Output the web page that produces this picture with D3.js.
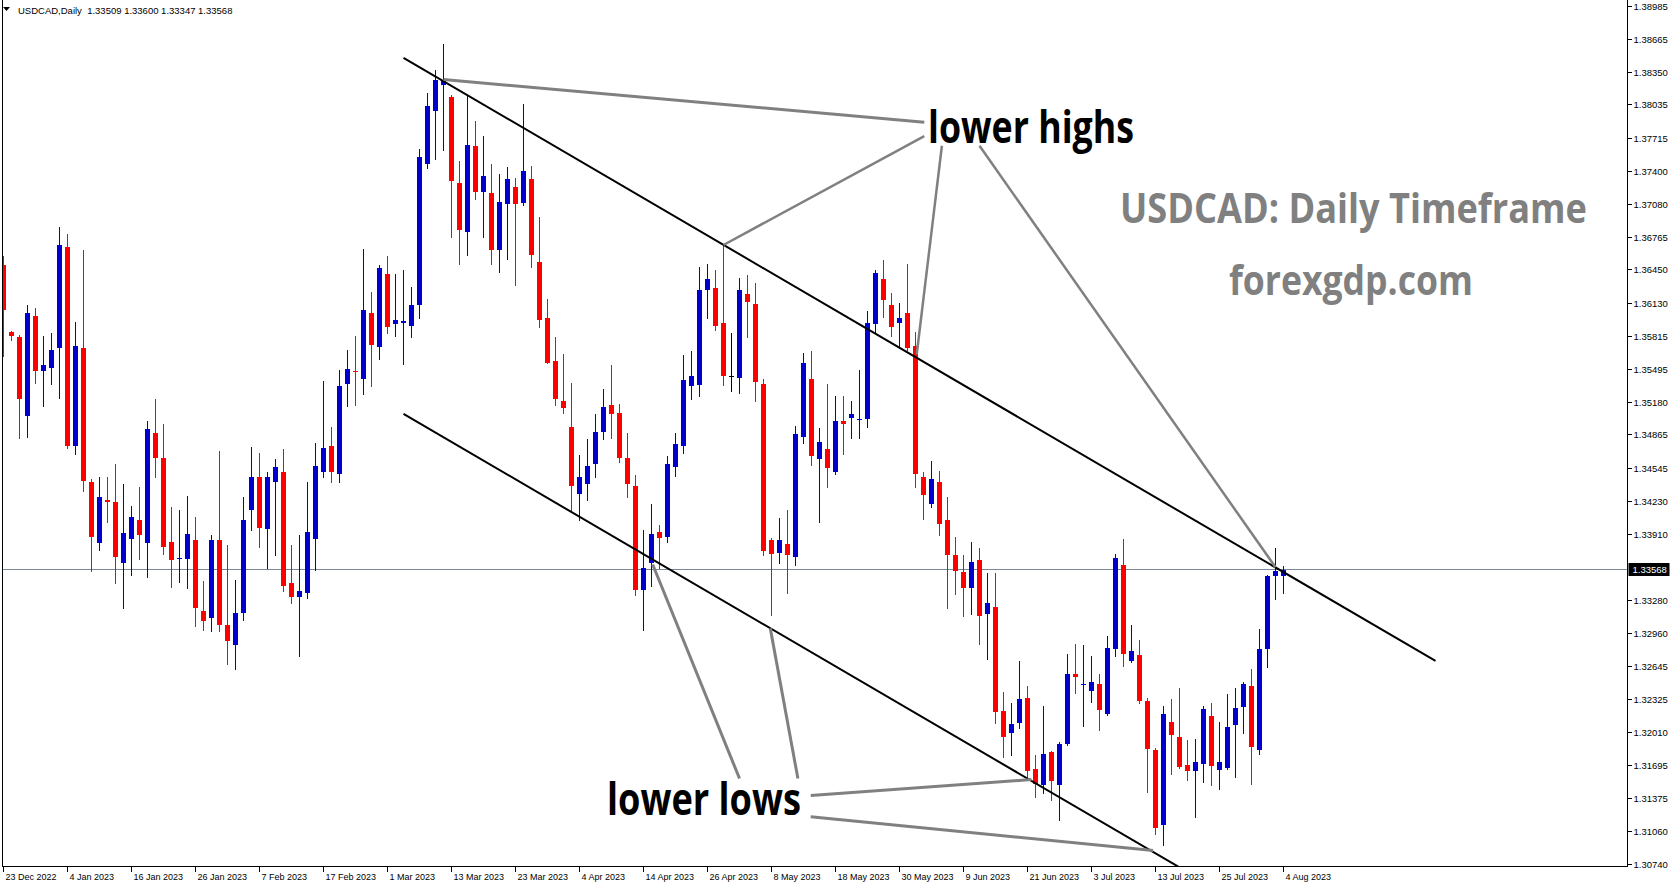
<!DOCTYPE html>
<html><head><meta charset="utf-8">
<script src="https://cdn.jsdelivr.net/npm/d3@7"></script>
<style>html,body{margin:0;padding:0;background:#fff;overflow:hidden}</style>
</head><body><svg id="c" width="1673" height="888"></svg>
<script>
// ---------------- DATA ----------------
const symbolTitle = "USDCAD,Daily";
const headerOHLC = ["1.33509", "1.33600", "1.33347", "1.33568"];
const open = [
1.36497,1.35854,1.35806,1.35047,1.36007,1.35470,1.35508,1.35691,1.36670,1.34759,
1.35691,1.34413,1.33827,1.34240,1.34221,1.33635,1.33866,1.34048,1.33827,1.34884,
1.34644,1.33837,1.33674,1.33674,1.33847,1.33174,1.33107,1.33847,1.33040,1.32848,
1.33155,1.34144,1.34461,1.33962,1.34413,1.34509,1.33443,1.33309,1.33338,1.33866,
1.34500,1.34759,1.34490,1.35354,1.35479,1.35402,1.36036,1.35710,1.36411,1.35924,
1.35934,1.35911,1.36113,1.37458,1.37976,1.38226,1.38111,1.37285,1.36814,1.37631,
1.37198,1.37189,1.36641,1.37083,1.37246,1.37093,1.37314,1.36526,1.35979,1.35566,
1.35191,1.34941,1.34298,1.34394,1.34577,1.34893,1.35153,1.35076,1.34644,1.34375,
1.33376,1.33626,1.33933,1.33885,1.34548,1.34759,1.35326,1.35345,1.36257,1.36276,
1.35931,1.35428,1.35412,1.36219,1.36123,1.35354,1.33856,1.33725,1.33818,1.33687,
1.34839,1.35402,1.34628,1.34721,1.34503,1.34999,1.35021,1.35002,1.35012,1.35924,
1.36363,1.36104,1.35934,1.36027,1.35719,1.34461,1.34196,1.34404,1.34048,1.33712,
1.33549,1.33389,1.33655,1.33139,1.33213,1.32214,1.31996,1.32092,1.32339,1.31657,
1.31497,1.31820,1.31497,1.31894,1.32569,1.32464,1.32400,1.32473,1.32179,1.32803,
1.33616,1.32688,1.32752,1.32310,1.31839,1.31113,1.32099,1.31955,1.31695,1.31631,
1.31699,1.32166,1.31641,1.31660,1.32073,1.32246,1.32454,1.31833,1.32803,1.33504,
1.33509];
const high = [
1.36584,1.35860,1.35825,1.36113,1.36084,1.35815,1.35844,1.36853,1.36795,1.35950,
1.36641,1.34442,1.34452,1.34452,1.34586,1.34394,1.34183,1.34365,1.34999,1.35210,
1.34970,1.34173,1.34135,1.34279,1.34077,1.33462,1.33895,1.34711,1.33799,1.33472,
1.34260,1.34749,1.34692,1.34500,1.34634,1.34721,1.33799,1.33904,1.34404,1.34788,
1.35374,1.34941,1.35489,1.35681,1.35815,1.36651,1.36238,1.36488,1.36584,1.36411,
1.36440,1.36286,1.37611,1.38149,1.38370,1.38620,1.38130,1.37496,1.38120,1.37880,
1.37736,1.37467,1.37371,1.37438,1.37333,1.38043,1.37448,1.36949,1.36171,1.35806,
1.35642,1.35364,1.34672,1.34826,1.35057,1.35306,1.35537,1.35162,1.34884,1.34480,
1.33952,1.34202,1.33991,1.34663,1.34884,1.35633,1.35671,1.36478,1.36507,1.36449,
1.36689,1.35835,1.36372,1.36392,1.36324,1.35402,1.33875,1.34067,1.34144,1.34951,
1.35652,1.35671,1.34932,1.35354,1.35239,1.35239,1.35191,1.35489,1.36055,1.36449,
1.36545,1.36228,1.36132,1.36507,1.35854,1.34509,1.34615,1.34519,1.34269,1.33885,
1.33712,1.33837,1.33779,1.33530,1.33539,1.32396,1.32291,1.32694,1.32454,1.31791,
1.32262,1.31830,1.31907,1.32761,1.32857,1.32848,1.32733,1.32569,1.32934,1.33722,
1.33866,1.33040,1.32896,1.32339,1.31850,1.32262,1.32320,1.32435,1.31935,1.31945,
1.32262,1.32291,1.32099,1.32377,1.32435,1.32492,1.32617,1.33001,1.33520,1.33779,
1.33600];
const low = [
1.35623,1.35771,1.34836,1.34845,1.35364,1.35134,1.35354,1.35220,1.34740,1.34682,
1.34327,1.33558,1.33751,1.34029,1.33443,1.33203,1.33520,1.33674,1.33501,1.34452,
1.33722,1.33405,1.33453,1.33386,1.33021,1.32992,1.32982,1.32982,1.32656,1.32617,
1.33088,1.33952,1.33789,1.33587,1.33712,1.33366,1.33242,1.32733,1.33290,1.33568,
1.34452,1.34404,1.34404,1.35134,1.35153,1.35258,1.35326,1.35594,1.35835,1.35815,
1.35546,1.35806,1.35988,1.37429,1.37515,1.37602,1.36757,1.36507,1.36593,1.37131,
1.36766,1.36507,1.36430,1.36555,1.36296,1.37073,1.36478,1.35902,1.35550,1.35153,
1.35076,1.34125,1.34048,1.34240,1.34461,1.34826,1.34836,1.34605,1.34269,1.33328,
1.32992,1.33414,1.33587,1.33837,1.34471,1.34692,1.35210,1.35239,1.35979,1.35873,
1.35345,1.35287,1.35268,1.35806,1.35182,1.33703,1.33136,1.33635,1.33338,1.33616,
1.34788,1.34576,1.34029,1.34356,1.34490,1.34673,1.34836,1.34836,1.34941,1.35854,
1.35998,1.35815,1.35700,1.35681,1.34356,1.34058,1.34167,1.33898,1.33197,1.33331,
1.33120,1.33139,1.32851,1.32707,1.32092,1.31766,1.31785,1.32044,1.31574,1.31382,
1.31420,1.31353,1.31161,1.31881,1.32380,1.32063,1.32297,1.32025,1.32175,1.32742,
1.32646,1.32678,1.32284,1.31430,1.31026,1.30921,1.31602,1.31660,1.31545,1.31190,
1.31526,1.31497,1.31458,1.31655,1.31574,1.31996,1.31506,1.31795,1.32630,1.33283,
1.33347];
const close = [
1.36059,1.35815,1.35210,1.36027,1.35470,1.35537,1.35681,1.36689,1.34759,1.35719,
1.34423,1.33885,1.34269,1.34221,1.33693,1.33923,1.34077,1.33895,1.34913,1.34644,
1.33789,1.33664,1.33683,1.33914,1.33203,1.33078,1.33856,1.33040,1.32886,1.33146,
1.34048,1.34461,1.33971,1.34452,1.34557,1.33414,1.33309,1.33366,1.33933,1.34567,
1.34740,1.34509,1.35335,1.35498,1.35470,1.36065,1.35729,1.36468,1.35902,1.35963,
1.35953,1.36113,1.37534,1.38024,1.38274,1.38264,1.37304,1.36833,1.37650,1.37198,
1.37352,1.36641,1.37102,1.37323,1.37083,1.37400,1.36593,1.35969,1.35556,1.35210,
1.35124,1.34375,1.34452,1.34567,1.34893,1.35133,1.35066,1.34644,1.34394,1.33376,
1.33578,1.33914,1.33875,1.34586,1.34769,1.35393,1.35422,1.36257,1.36363,1.35911,
1.35422,1.35428,1.36248,1.36142,1.35367,1.33744,1.33715,1.33856,1.33706,1.34874,
1.35556,1.34657,1.34797,1.34541,1.34999,1.34970,1.35057,1.35018,1.35931,1.36420,
1.36155,1.35895,1.35979,1.35694,1.34484,1.34282,1.34442,1.34003,1.33706,1.33552,
1.33389,1.33645,1.33120,1.33242,1.32198,1.31958,1.32089,1.32329,1.31631,1.31513,
1.31801,1.31535,1.31897,1.32569,1.32534,1.32473,1.32492,1.32217,1.32819,1.33683,
1.32755,1.32790,1.32304,1.31843,1.31084,1.32176,1.31977,1.31670,1.31631,1.31715,
1.32224,1.31679,1.31724,1.32051,1.32243,1.32464,1.31862,1.32809,1.33510,1.33558,
1.33568];
const xTickLabels = ["23 Dec 2022","4 Jan 2023","16 Jan 2023","26 Jan 2023","7 Feb 2023","17 Feb 2023","1 Mar 2023","13 Mar 2023","23 Mar 2023","4 Apr 2023","14 Apr 2023","26 Apr 2023","8 May 2023","18 May 2023","30 May 2023","9 Jun 2023","21 Jun 2023","3 Jul 2023","13 Jul 2023","25 Jul 2023","4 Aug 2023"];
const xTickIndex = [0,8,16,24,32,40,48,56,64,72,80,88,96,104,112,120,128,136,144,152,160];
const yTickLabels = ["1.38985","1.38665","1.38350","1.38035","1.37715","1.37400","1.37080","1.36765","1.36450","1.36130","1.35815","1.35495","1.35180","1.34865","1.34545","1.34230","1.33910","1.33280","1.32960","1.32645","1.32325","1.32010","1.31695","1.31375","1.31060","1.30740"];
const currentPrice = 1.33568;
// channel lines: [barIndex, price]
const upperChannel = [[50, 1.38482], [179, 1.32690]];
const lowerChannel = [[50, 1.35063], [179, 1.29271]];
// gray annotation lines: [barIndex, price] pairs
const highsLines = [
  [[55, 1.38274], [115.1, 1.37864]],
  [[115.1, 1.37730], [90.0, 1.36685]],
  [[117.3, 1.37638], [114.15, 1.35633]],
  [[122.0, 1.37638], [159.0, 1.33590]]
];
const lowsLines = [
  [[95.85, 1.33003], [99.3, 1.31561]],
  [[81.15, 1.33616], [92.0, 1.31561]],
  [[100.9, 1.31398], [128.5, 1.31551]],
  [[100.9, 1.31193], [143.7, 1.30869]]
];
const annotationTexts = ["lower highs", "lower lows", "USDCAD: Daily Timeframe", "forexgdp.com"];

// ---------------- LAYOUT ----------------
const W = 1673, H = 888;
const plotL = 2.5, plotR = 1627.5, plotB = 866.5;
const x = d3.scaleLinear().domain([0, 160]).range([3.5, 1283.5]);
const y = d3.scaleLinear().domain([1.30740, 1.38985]).range([864, 5.5]);
const bull = "#0000CD", bear = "#FF0000", doji = "#000000";
const svg = d3.select("#c");
svg.append("rect").attr("width", W).attr("height", H).attr("fill", "#fff");
svg.append("defs").append("clipPath").attr("id", "clip")
  .append("rect").attr("x", plotL).attr("y", 0).attr("width", plotR - plotL).attr("height", plotB);
const g = svg.append("g").attr("clip-path", "url(#clip)");

// current price line
const cpY = Math.floor(y(currentPrice)) + 0.5;
g.append("line").attr("x1", plotL).attr("x2", plotR).attr("y1", cpY).attr("y2", cpY)
  .attr("stroke", "#778899").attr("stroke-width", 1);

// candles
const bars = d3.range(open.length).map(i => ({i, o: open[i], h: high[i], l: low[i], c: close[i]}));
const col = d => d.c > d.o ? bull : (d.c < d.o ? bear : doji);
const cg = g.append("g").attr("shape-rendering", "crispEdges");
cg.selectAll("line.w").data(bars).join("line").attr("class", "w")
  .attr("x1", d => x(d.i)).attr("x2", d => x(d.i))
  .attr("y1", d => Math.round(y(d.h))).attr("y2", d => Math.round(y(d.l)) + 1)
  .attr("stroke", col).attr("stroke-width", 1);
cg.selectAll("rect.b").data(bars).join("rect").attr("class", "b")
  .attr("x", d => x(d.i) - 2.5)
  .attr("y", d => Math.round(y(Math.max(d.o, d.c))))
  .attr("width", 5)
  .attr("height", d => Math.max(1, Math.round(y(Math.min(d.o, d.c))) - Math.round(y(Math.max(d.o, d.c)))))
  .attr("fill", col);

// channel lines
const line = d3.line().x(d => x(d[0])).y(d => y(d[1]));
[upperChannel, lowerChannel].forEach(c => {
  g.append("path").attr("d", line(c)).attr("fill", "none").attr("stroke", "#000").attr("stroke-width", 2);
});
// gray annotation lines
highsLines.forEach((c, k) => {
  g.append("path").attr("d", line(c)).attr("fill", "none").attr("stroke", "#808080")
    .attr("stroke-width", k === 0 ? 3 : 2.5);
});
lowsLines.forEach(c => {
  g.append("path").attr("d", line(c)).attr("fill", "none").attr("stroke", "#808080").attr("stroke-width", 3);
});

// annotation texts (horizontally condensed to the reference width)
const txt = (s, px, py, w, size, fill) => {
  const t = svg.append("text").attr("x", 0).attr("y", 0)
    .attr("font-family", "'Open Sans', sans-serif").attr("font-weight", 700).attr("font-size", size)
    .attr("fill", fill).text(s);
  const w0 = t.node().getComputedTextLength() || w;
  t.attr("transform", `translate(${px},${py}) scale(${w / w0},1)`);
};
txt(annotationTexts[0], 928, 143, 206, 44, "#000");
txt(annotationTexts[1], 607, 815, 194, 44, "#000");
txt(annotationTexts[2], 1120, 223, 467, 42, "#808080");
txt(annotationTexts[3], 1229, 295, 244, 42, "#808080");

// borders
const fr = svg.append("g").attr("shape-rendering", "crispEdges").attr("stroke", "#000").attr("stroke-width", 1);
fr.append("line").attr("x1", plotL).attr("x2", plotL).attr("y1", 0).attr("y2", plotB);
fr.append("line").attr("x1", plotR).attr("x2", plotR).attr("y1", 0).attr("y2", plotB);
fr.append("line").attr("x1", plotL).attr("x2", plotR).attr("y1", plotB).attr("y2", plotB);

// y axis ticks
const axFont = "'Liberation Sans', Arial, sans-serif";
const yt = svg.append("g");
yTickLabels.forEach(s => {
  const ty = Math.round(y(+s)) + 0.5;
  yt.append("line").attr("x1", plotR).attr("x2", plotR + 4).attr("y1", ty).attr("y2", ty)
    .attr("stroke", "#000").attr("shape-rendering", "crispEdges");
  yt.append("text").attr("x", plotR + 6).attr("y", ty).attr("dy", "0.35em")
    .attr("font-family", axFont).attr("font-size", 9.5).attr("fill", "#000").text(s);
});
// current price label
yt.append("rect").attr("x", plotR + 1).attr("y", cpY - 6.5).attr("width", 41).attr("height", 13).attr("fill", "#000");
yt.append("text").attr("x", plotR + 5).attr("y", cpY).attr("dy", "0.35em")
  .attr("font-family", axFont).attr("font-size", 9.5).attr("fill", "#fff").text(d3.format(".5f")(currentPrice));

// x axis ticks
const xt = svg.append("g");
xTickIndex.forEach((bi, k) => {
  const tx = x(bi);
  xt.append("line").attr("x1", tx).attr("x2", tx).attr("y1", plotB).attr("y2", plotB + 5)
    .attr("stroke", "#000").attr("shape-rendering", "crispEdges");
  xt.append("text").attr("x", tx + 2).attr("y", 880)
    .attr("font-family", axFont).attr("font-size", 9).attr("fill", "#000").text(xTickLabels[k]);
});

// header
svg.append("path").attr("d", "M3,7 L10,7 L6.5,11 Z").attr("fill", "#000");
svg.append("text").attr("x", 18).attr("y", 14).attr("font-family", axFont).attr("font-size", 9.5)
  .attr("fill", "#000").style("white-space", "pre")
  .text(symbolTitle + "  " + headerOHLC.join(" "));
</script></body></html>
